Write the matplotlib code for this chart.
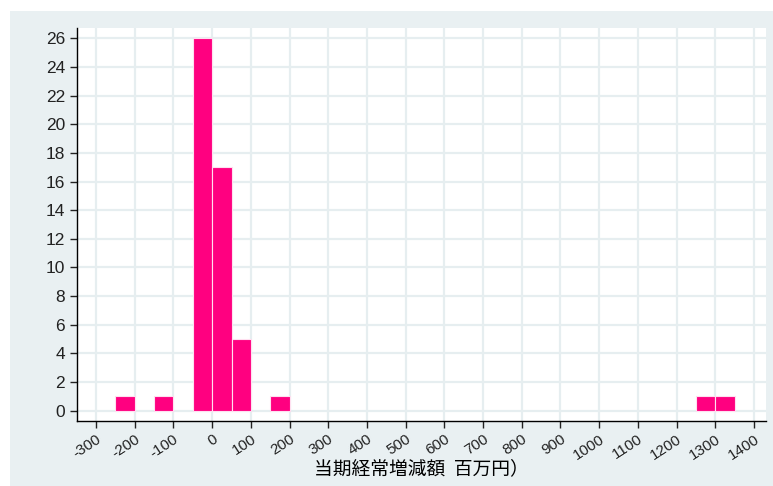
import matplotlib
matplotlib.use("Agg")
import matplotlib.pyplot as plt
from matplotlib.patches import Rectangle

bin_left = [-250, -150, -50, 0, 50, 150, 1250, 1300]
counts = [1, 1, 26, 17, 5, 1, 1, 1]
bin_width = 50
xticks = list(range(-300, 1401, 100))
yticks = list(range(0, 27, 2))
xlabel = "当期経常増減額  百万円）"

plt.rcParams['font.family'] = ['Liberation Sans', 'Noto Sans CJK JP', 'DejaVu Sans']

W, H = 773, 486
fig = plt.figure(figsize=(W/100, H/100), dpi=100)
fig.patch.set_facecolor('white')
bg = '#E9F0F2'
fig.patches.append(Rectangle((10/W, 0), 1 - 10/W, (H - 11)/H, transform=fig.transFigure,
                             facecolor=bg, edgecolor='none', zorder=-10))

ax = fig.add_axes([76.7/W, (H-421)/H, (766-76.7)/W, (421-28)/H])
ax.set_facecolor('white')
ax.bar(bin_left, counts, width=bin_width, align='edge', color='#FF0080',
       edgecolor='#FFE0F0', linewidth=0.8, zorder=3)

ax.set_xlim(-350, 1431)
ax.set_ylim(-0.72, 26.72)
ax.set_xticks(xticks)
ax.set_xticklabels([str(v) for v in xticks], rotation=33, ha='right',
                   rotation_mode='anchor', fontsize=11)
ax.set_yticks(yticks)
ax.set_yticklabels([str(v) for v in yticks], fontsize=12.5)
ax.grid(True, color='#E6EEF0', linewidth=1.6, zorder=0)
for s in ['top', 'right']:
    ax.spines[s].set_visible(False)
for s in ['left', 'bottom']:
    ax.spines[s].set_color('black')
    ax.spines[s].set_linewidth(1.0)
ax.tick_params(axis='both', direction='out', length=5, width=1, colors='#222222')
ax.tick_params(axis='x', pad=3)
ax.set_xlabel(xlabel, fontsize=13.5, family=['Noto Sans CJK JP', 'DejaVu Sans'], labelpad=-3)

fig.savefig('out.png', dpi=100, facecolor='white')
